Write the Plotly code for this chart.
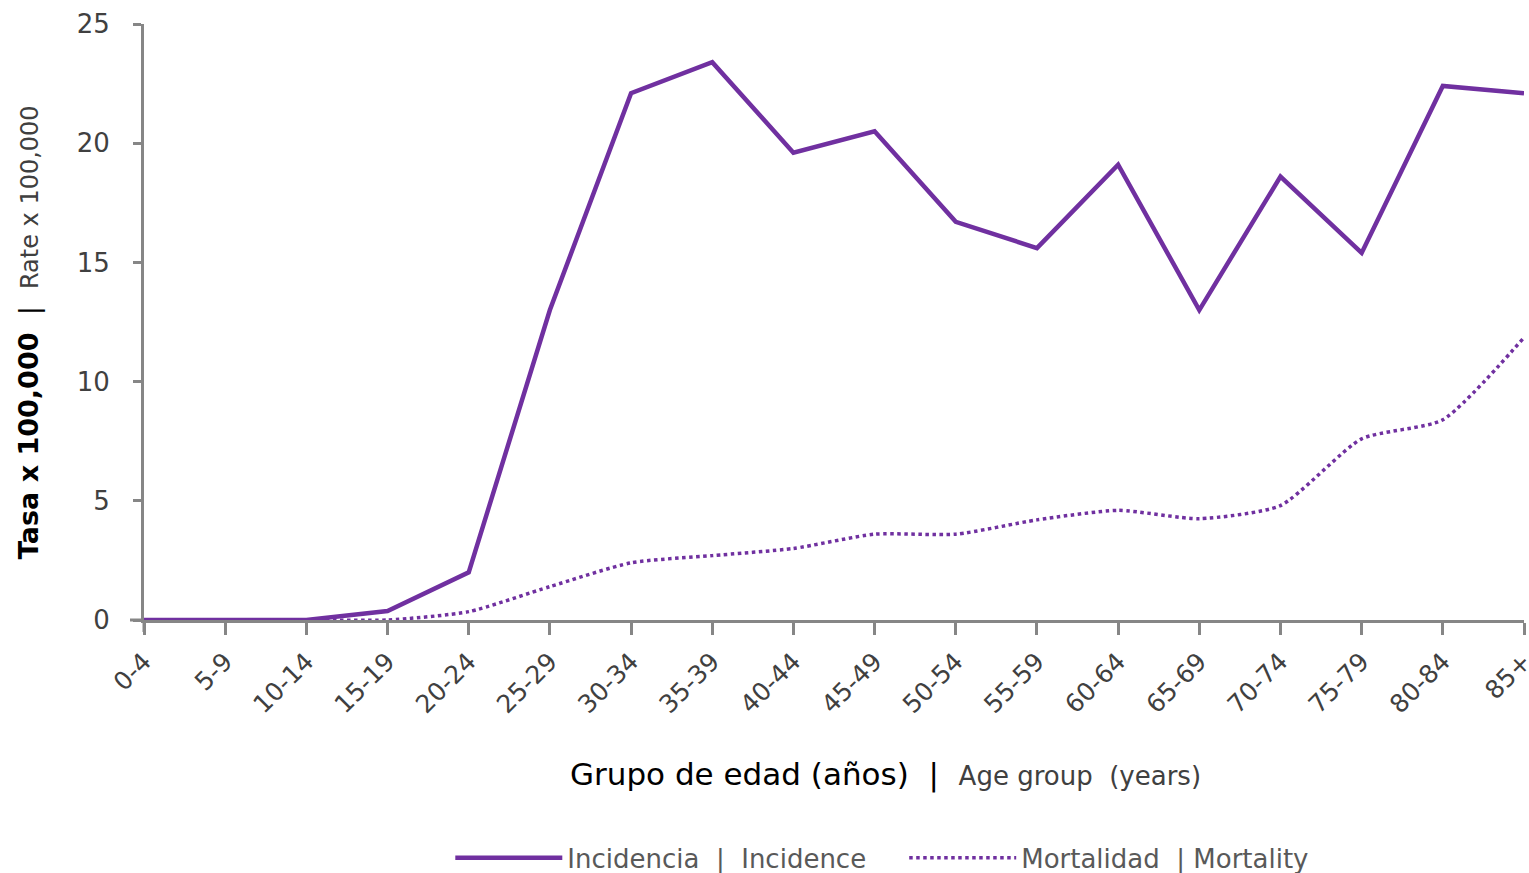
import plotly.graph_objects as go

age_groups = ["0-4", "5-9", "10-14", "15-19", "20-24", "25-29", "30-34", "35-39",
              "40-44", "45-49", "50-54", "55-59", "60-64", "65-69", "70-74",
              "75-79", "80-84", "85+"]
incidencia = [0, 0, 0, 0.38, 2.0, 13.0, 22.1, 23.4, 19.6, 20.5, 16.7, 15.6,
              19.1, 13.0, 18.6, 15.4, 22.4, 22.1]
mortalidad = [0, 0, 0, 0, 0.35, 1.4, 2.4, 2.7, 3.0, 3.6, 3.6, 4.2, 4.6, 4.25,
              4.8, 7.6, 8.4, 11.85]

purple = "#7030A0"
axis_gray = "#868686"
font_family = "'DejaVu Sans', sans-serif"

fig = go.Figure()
fig.add_trace(go.Scatter(
    x=age_groups, y=incidencia, mode="lines",
    name="Incidencia  |  Incidence&nbsp;&nbsp;&nbsp;&nbsp;",
    line=dict(color=purple, width=4.5),
))
fig.add_trace(go.Scatter(
    x=age_groups, y=mortalidad, mode="lines",
    name="Mortalidad  | Mortality",
    line=dict(color=purple, width=3.5, dash="dot", shape="spline", smoothing=0.6),
))

plot_h = 596.0
fig.update_layout(
    width=1529, height=873,
    margin=dict(l=144, r=5, t=24, b=253, autoexpand=False),
    plot_bgcolor="white", paper_bgcolor="white",
    font=dict(family=font_family, color="#404040"),
    showlegend=True,
    legend=dict(orientation="h", x=0.535, xanchor="center", y=-0.399, yanchor="middle",
                font=dict(size=26, color="#595959"), itemwidth=107,
                traceorder="normal"),
    xaxis=dict(
        type="category", range=[0, 17], automargin=False,
        showline=True, linecolor=axis_gray, linewidth=3,
        ticks="outside", ticklen=12, tickwidth=3, tickcolor=axis_gray,
        tickangle=-45, tickfont=dict(size=25, color="#404040"),
        ticklabelstandoff=2,
        showgrid=False, zeroline=False,
    ),
    yaxis=dict(
        range=[0, 25], dtick=5, automargin=False,
        showline=True, linecolor=axis_gray, linewidth=3,
        ticks="outside", ticklen=8, tickwidth=3, tickcolor=axis_gray,
        tickfont=dict(size=26, color="#404040"),
        ticklabelstandoff=18,
        showgrid=False, zeroline=False,
    ),
    shapes=[
        dict(type="line", xref="paper", yref="paper", x0=0, x1=0, y0=0, y1=-12 / plot_h,
             line=dict(color=axis_gray, width=3)),
        dict(type="line", xref="paper", yref="paper", x0=0, x1=-14 / 1380.0, y0=0, y1=0,
             line=dict(color=axis_gray, width=3)),
    ],
    annotations=[
        dict(
            text="<b>Tasa x 100,000</b>  |  <span style='font-size:24px;color:#404040'>Rate x 100,000</span>",
            xref="paper", yref="paper", x=-0.0833, y=0.483, xanchor="center", yanchor="middle",
            textangle=-90, showarrow=False, font=dict(size=27, color="black"),
        ),
        dict(
            text="Grupo de edad (años)  |  <span style='font-size:26px;color:#404040'>Age group  (years)</span>",
            xref="paper", yref="paper", x=0.537, y=-0.26, xanchor="center", yanchor="middle",
            showarrow=False, font=dict(size=31, color="black"),
        ),
    ],
)

fig.write_html("out.html", config={"displayModeBar": False},
               post_script="document.body.style.margin='0';document.body.style.overflow='hidden';")
